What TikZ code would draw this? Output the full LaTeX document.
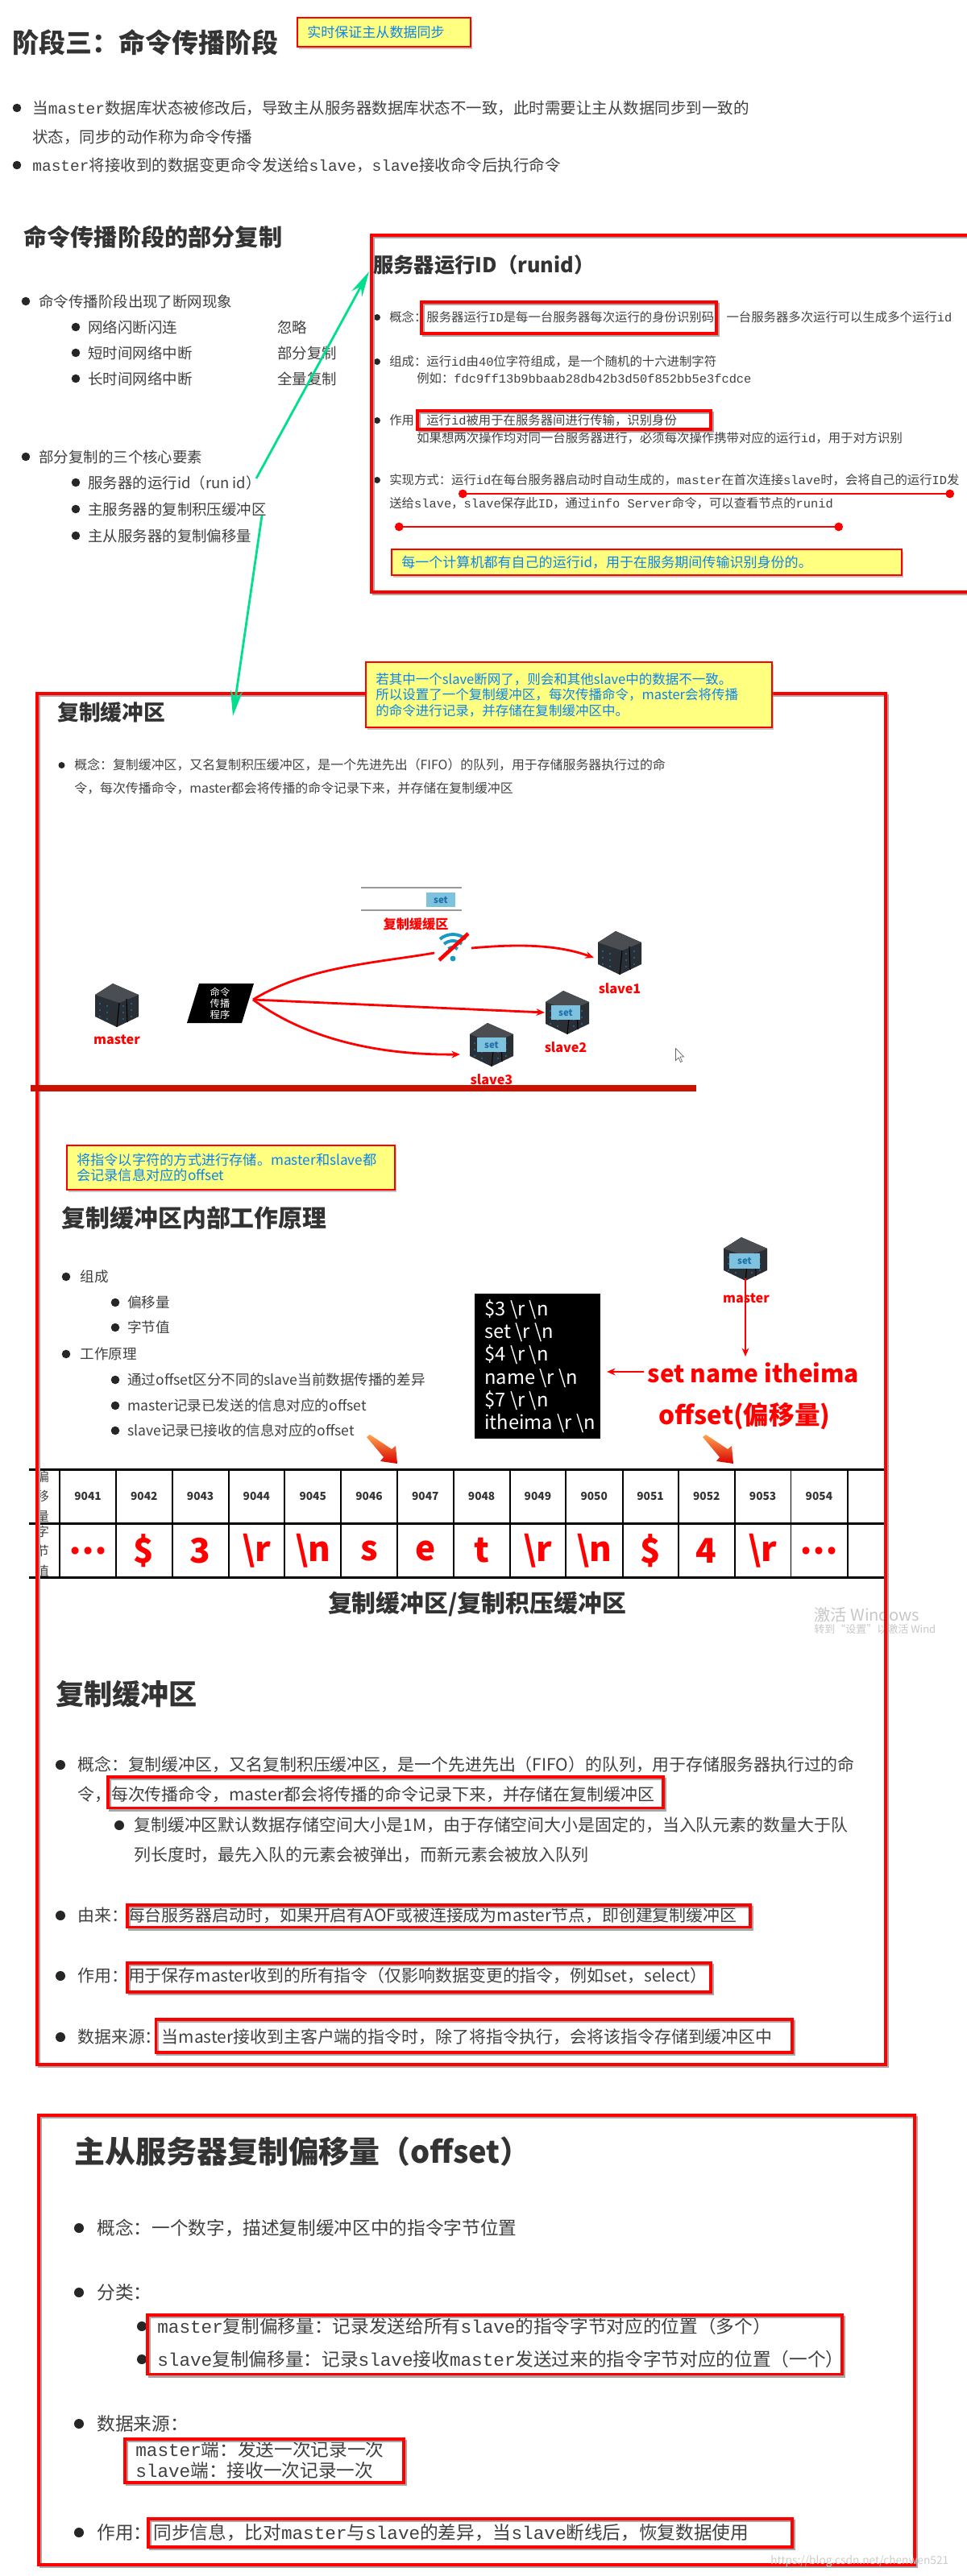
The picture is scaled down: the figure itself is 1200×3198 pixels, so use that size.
\documentclass[tikz,border=0pt]{standalone}
\usepackage{fontspec}
\setmainfont{Noto Sans CJK SC}
\setmonofont{Liberation Mono}
\usetikzlibrary{arrows.meta,shadows}
\definecolor{boxred}{HTML}{FF0000}
\definecolor{barred}{HTML}{CC1100}
\definecolor{noteyellow}{HTML}{FFFF80}
\definecolor{noteblue}{HTML}{0A84F0}
\definecolor{bodygray}{HTML}{404040}
\definecolor{titlegray}{HTML}{333333}
\definecolor{arrowgreen}{HTML}{00E08C}
\definecolor{tileblue}{HTML}{7EC2DE}
\definecolor{setblue}{HTML}{1F6FA8}
\definecolor{srvdark}{HTML}{2A2E35}
\definecolor{srvtop}{HTML}{4A4D52}
\newcommand{\mo}[1]{{\ttfamily #1}}
\newcommand{\bs}{\textbackslash}
\tikzset{
	fs/.style={font=\fontsize{#1}{#1}\selectfont},
	txt/.style={anchor=west, inner sep=0pt, text=bodygray},
	ttl/.style={anchor=west, inner sep=0pt, text=titlegray, font=\fontsize{#1}{#1}\selectfont\bfseries},
	redlbl/.style={inner sep=0pt, text=boxred, font=\fontsize{#1}{#1}\selectfont\bfseries},
	redbox/.style={draw=boxred, line width=2.2pt, line join=miter,
		preaction={draw=black!35, line width=1.6pt, transform canvas={shift={(1.2pt,-1.6pt)}}}},
	notebox/.style={draw=boxred, line width=1.6pt, fill=noteyellow, drop shadow={shadow xshift=1.2pt, shadow yshift=-1.8pt, opacity=.45},
		inner xsep=7pt, inner ysep=0pt, align=left, text=noteblue},
	settile/.style={fill=tileblue, inner sep=0pt, minimum width=20pt, minimum height=9.8pt, text=setblue,
		font=\fontsize{6.5}{6.5}\selectfont\bfseries},
	cell/.style={inner sep=0pt, text=titlegray, font=\fontsize{7.8}{7.8}\selectfont\bfseries},
	byte/.style={inner sep=0pt, text=boxred, font=\fontsize{24}{24}\selectfont\bfseries},
	flow/.style={draw=boxred, line width=1.6pt, -{Stealth[length=6pt,width=5pt]}},
	greenlink/.style={arrowgreen, line width=1.6pt, -{Stealth[length=18pt,width=8.5pt]}},
	server/.pic={
		\fill[srvdark] (-27,-13) -- (-5,-27) -- (27,-13) -- (27,14) -- (0,27) -- (-27,14) -- cycle;
		\fill[srvtop] (-27,-13) -- (-5,-27) -- (27,-13) -- (3,-3) -- cycle;
		\draw[black, line width=.6pt] (3,-3) -- (0,27) (12,-8) -- (13,21);
		\foreach \y in {-2,6,14}
			\fill[setblue] (-21,\y) circle (1.1) (-12,\y+3) circle (1.1) (8,\y+3) circle (1.1) (18,\y) circle (1.1);
	},
	blockarrow/.pic={
		\shade[top color=orange!70, bottom color=red!85!black] (0,0) -- (27,18) -- (32,14) -- (34,36) -- (13,33) -- (17,28) -- (-4,3) -- cycle;
	},
}
\begin{document}
\begin{tikzpicture}[x=0.02cm, y=-0.02cm]
	\useasboundingbox (0,0) rectangle (1200,3198);
	% page head
	\node[ttl=18.8] (headTitle) at (15,53) {阶段三：命令传播阶段};
	\foreach \x/\y/\r in {21/134/5.3, 21/205/5.3, 32/374/5.3, 94/406/5.3, 94/438/5.3, 94/470/5.3, 32/567/5.3, 94/599/5.3, 94/632/5.3, 94/665/5.3,
		468/394/4, 468/449/4, 468/522/4, 468/596/4, 76.5/950/4, 82/1585/5.3, 143/1617/5.3, 143/1648/5.3, 82/1681/5.3, 143/1713/5.3, 143/1745/5.3, 143/1776/5.3,
		75/2191/6, 148/2266/6, 75/2378/6, 75/2453/6, 75/2529/6, 98/2766/6, 98/2846/6, 176/2888/6, 176/2929/6, 98/3009/6, 98/3144/6}
		\fill[black!85] (\x,\y) circle (\r);
	\node[txt, fs=11.1] (headA) at (40,134) {当\mo{master}数据库状态被修改后，导致主从服务器数据库状态不一致，此时需要让主从数据同步到一致的};
	\node[txt, fs=11.1] (headB) at (40,170) {状态，同步的动作称为命令传播};
	\node[txt, fs=11.1] (headC) at (40,205) {\mo{master}将接收到的数据变更命令发送给\mo{slave}，\mo{slave}接收命令后执行命令};
	% partial copy list
	\node[ttl=16.6] (partTitle) at (29,294) {命令传播阶段的部分复制};
	\node[txt, fs=10.5] (partA) at (48,374) {命令传播阶段出现了断网现象};
	\node[txt, fs=10.5] (partA1) at (109,406) {网络闪断闪连};
	\node[txt, fs=10.5] (partA2) at (109,438) {短时间网络中断};
	\node[txt, fs=10.5] (partA3) at (109,470) {长时间网络中断};
	\node[txt, fs=10.5] (partR1) at (344,406) {忽略};
	\node[txt, fs=10.5] (partR2) at (344,438) {部分复制};
	\node[txt, fs=10.5] (partR3) at (344,470) {全量复制};
	\node[txt, fs=10.5] (partB) at (48,567) {部分复制的三个核心要素};
	\node[txt, fs=10.5] (partB1) at (109,599) {服务器的运行id（run id）};
	\node[txt, fs=10.5] (partB2) at (109,632) {主服务器的复制积压缓冲区};
	\node[txt, fs=10.5] (partB3) at (109,665) {主从服务器的复制偏移量};
	% run id box
	\draw[redbox] (1200,292) -- (461,292) -- (461,735) -- (1200,735);
	\node[ttl=14.4] (runTitle) at (463,329) {服务器运行ID（runid）};
	\node[txt, fs=8.75] (runA) at (483,394) {概念：服务器运行\mo{ID}是每一台服务器每次运行的身份识别码，一台服务器多次运行可以生成多个运行\mo{id}};
	\node[txt, fs=8.75] (runB) at (483,449) {组成：运行\mo{id}由\mo{40}位字符组成，是一个随机的十六进制字符};
	\node[txt, fs=8.75] (runB1) at (517,470) {例如：\mo{fdc9ff13b9bbaab28db42b3d50f852bb5e3fcdce}};
	\node[txt, fs=8.75] (runC) at (483,522) {作用：};
	\node[txt, fs=8.75] (runC0) at (529,522) {运行\mo{id}被用于在服务器间进行传输，识别身份};
	\node[txt, fs=8.75] (runC1) at (517,544) {如果想两次操作均对同一台服务器进行，必须每次操作携带对应的运行\mo{id}，用于对方识别};
	\node[txt, fs=8.75] (runD) at (483,596) {实现方式：运行\mo{id}在每台服务器启动时自动生成的，\mo{master}在首次连接\mo{slave}时，会将自己的运行\mo{ID}发};
	\node[txt, fs=8.75] (runD1) at (483,625) {送给\mo{slave}，\mo{slave}保存此\mo{ID}，通过\mo{info Server}命令，可以查看节点的\mo{runid}};
	\draw[redbox] (523,375) rectangle (889,414);
	\draw[redbox] (518,510) rectangle (882,533);
	\coordinate (lineAs) at (569,613);
	\coordinate (lineAe) at (1184,613);
	\coordinate (lineBs) at (490,654);
	\coordinate (lineBe) at (1046,654);
	\draw[boxred, line width=1.4pt, {Circle[length=6pt]}-{Circle[length=6pt]}] (lineAs) -- (lineAe);
	\draw[boxred, line width=1.4pt, {Circle[length=6pt]}-{Circle[length=6pt]}] (lineBs) -- (lineBe);
	% copy buffer panel
	\node[ttl=15.2] (bufTitle) at (71,884) {复制缓冲区};
	\node[txt, fs=9.05] (bufA) at (92,950) {概念：复制缓冲区，又名复制积压缓冲区，是一个先进先出（FIFO）的队列，用于存储服务器执行过的命};
	\node[txt, fs=9.05] (bufB) at (92,979) {令，每次传播命令，master都会将传播的命令记录下来，并存储在复制缓冲区};
	\draw[black!40, line width=1.4pt] (448,1102) -- (573,1102) (448,1130) -- (573,1130);
	\node[settile] (setQueue) at (547,1117) {set};
	\node[redlbl=9.2] (queueLbl) at (516,1147) {复制缓缓区};
	\pic (srvMaster) at (145,1248) {server};
	\pic (srvOne) at (769,1183) {server};
	\pic (srvTwo) at (704,1257) {server};
	\pic (srvThree) at (610,1297) {server};
	\node[settile] (setTwo) at (702,1257) {set};
	\node[settile] (setThree) at (610,1297) {set};
	\node[redlbl=9.2] (lblMaster) at (145,1291) {master};
	\node[redlbl=9.2] (lblOne) at (769,1227) {slave1};
	\node[redlbl=9.2] (lblTwo) at (702,1300) {slave2};
	\node[redlbl=9.2] (lblThree) at (610,1340) {slave3};
	\fill[black] (247,1221) -- (315,1221) -- (300,1270) -- (232,1270) -- cycle;
	\node[inner sep=0pt, text=white, align=center, font=\fontsize{7}{8}\selectfont] (progLbl) at (273,1246) {命令\\传播\\程序};
	\coordinate (progOut) at (314,1241);
	\coordinate (wifiIn) at (539,1183);
	\coordinate (wifiOut) at (585,1177);
	\coordinate (toOne) at (737,1189);
	\coordinate (toTwo) at (676,1257);
	\coordinate (toThree) at (571,1309);
	\draw[boxred, line width=1.6pt] (progOut) .. controls (380,1200) and (470,1195) .. (wifiIn);
	\draw[flow] (wifiOut) .. controls (640,1172) and (690,1172) .. (toOne);
	\draw[flow] (progOut) -- (toTwo);
	\draw[flow] (progOut) .. controls (380,1290) and (470,1310) .. (toThree);
	\foreach \r in {9,17,25}
		\draw[setblue!70!cyan, line width=2.2pt] (562,1185) ++(-130:\r) arc (-130:-50:\r);
	\fill[setblue!70!cyan] (562,1190) circle (3.5);
	\coordinate (wifiCutA) at (545,1192);
	\coordinate (wifiCutB) at (581,1159);
	\draw[boxred, line width=2.6pt] (wifiCutA) -- (wifiCutB);
	\draw[black!60, fill=white, line width=.4pt] (838.5,1301.5) -- ++(0,15) -- ++(3.5,-3.5) -- ++(2.5,5.5) -- ++(2,-1) -- ++(-2.5,-5.5) -- ++(4.5,0) -- cycle;
	% inner working panel
	\node[ttl=17] (innerTitle) at (76.5,1512) {复制缓冲区内部工作原理};
	\node[txt, fs=10] (innerA) at (99.5,1585) {组成};
	\node[txt, fs=10] (innerA1) at (158,1617) {偏移量};
	\node[txt, fs=10] (innerA2) at (158,1648) {字节值};
	\node[txt, fs=10] (innerB) at (99.5,1681) {工作原理};
	\node[txt, fs=10] (innerB1) at (158,1713) {通过offset区分不同的slave当前数据传播的差异};
	\node[txt, fs=10] (innerB2) at (158,1745) {master记录已发送的信息对应的offset};
	\node[txt, fs=10] (innerB3) at (158,1776) {slave记录已接收的信息对应的offset};
	\fill[black] (589,1606) rectangle (745,1786);
	\foreach \l/\t [count=\i] in {1626/{\$3 \bs r \bs n}, 1654/{set \bs r \bs n}, 1682/{\$4 \bs r \bs n}, 1711/{name \bs r \bs n}, 1739/{\$7 \bs r \bs n}, 1767/{itheima \bs r \bs n}}
		\node[anchor=west, inner sep=0pt, text=white, fs=13.5] (cmd\i) at (601,\l) {\t};
	\pic (srvSet) at (925,1563) {server};
	\node[settile, minimum width=21.6pt, minimum height=10.8pt] (setMaster) at (924,1565) {set};
	\node[redlbl=9.2] (lblSet) at (926,1612) {master};
	\coordinate (dropIn) at (925,1587);
	\coordinate (dropOut) at (925,1684);
	\draw[draw=boxred, line width=1pt, -{Stealth[length=6pt,width=5pt]}] (dropIn) -- (dropOut);
	\node[redlbl=17] (setName) at (935,1704) {set name itheima};
	\coordinate (cmdFrom) at (799,1703);
	\coordinate (cmdTo) at (753,1703);
	\draw[flow] (cmdFrom) -- (cmdTo);
	\node[redlbl=18] (offsetLbl) at (924,1758) {offset(偏移量)};
	\pic at (459,1781) {blockarrow};
	\pic at (876,1781) {blockarrow};
	% byte table
	\foreach \y in {1824,1891,1958}
		\draw[black, line width=1.7pt] (36,\y) -- (1098,\y);
	\foreach \x in {74,144,214,284,353,423,493,563,633,702,773,842,912,981.5,1052}
		\draw[black, line width=1pt] (\x,1824) -- (\x,1958);
	\foreach \n [count=\i from 0] in {9041,...,9054}
		\node[cell] (off\n) at (109+69.8*\i,1858) {\n};
	\foreach \t [count=\i from 0] in {…,\$,3,\bs r,\bs n,s,e,t,\bs r,\bs n,\$,4,\bs r,…}
		\node[byte] (chr\i) at (109+69.8*\i,1925) {\t};
	\foreach \t/\y in {偏/1833,移/1857,量/1883,字/1901,节/1925,值/1950}
		\node[inner sep=0pt, text=bodygray, fs=9] (side\y) at (53,\y) {\t};
	\node[ttl=17, anchor=center] (tableCap) at (592,1991) {复制缓冲区/复制积压缓冲区};
	\node[inner sep=0pt, anchor=west, text=black!22, fs=11.5] (winA) at (1010,2005) {激活 Windows};
	\node[inner sep=0pt, anchor=west, text=black!22, fs=7.4] (winB) at (1010,2023) {转到“设置”以激活 Wind};
	% copy buffer summary
	\node[ttl=20] (sumTitle) at (69,2103) {复制缓冲区};
	\node[txt, fs=11.9] (sumA) at (96,2191) {概念：复制缓冲区，又名复制积压缓冲区，是一个先进先出（FIFO）的队列，用于存储服务器执行过的命};
	\node[txt, fs=11.9] (sumB) at (96,2228) {令，每次传播命令，master都会将传播的命令记录下来，并存储在复制缓冲区};
	\node[txt, fs=11.9] (sumC) at (166,2266) {复制缓冲区默认数据存储空间大小是1M，由于存储空间大小是固定的，当入队元素的数量大于队};
	\node[txt, fs=11.9] (sumD) at (166,2303) {列长度时，最先入队的元素会被弹出，而新元素会被放入队列};
	\node[txt, fs=11.9] (sumE) at (96,2378) {由来：每台服务器启动时，如果开启有AOF或被连接成为master节点，即创建复制缓冲区};
	\node[txt, fs=11.9] (sumF) at (96,2453) {作用：用于保存master收到的所有指令（仅影响数据变更的指令，例如set，select）};
	\node[txt, fs=11.9] (sumG) at (96,2529) {数据来源：当master接收到主客户端的指令时，除了将指令执行，会将该指令存储到缓冲区中};
	\draw[redbox] (134,2206) rectangle (823,2244.5);
	\draw[redbox] (158,2365) rectangle (931,2392.5);
	\draw[redbox] (158,2437) rectangle (882,2473);
	\draw[redbox] (193.5,2507) rectangle (983,2548);
	\draw[redbox] (46,861) rectangle (1099,2563);
	\fill[barred] (38,1347) rectangle (864,1355);
	% offset panel
	\draw[redbox] (48,2626) rectangle (1135,3184);
	\node[ttl=21.6] (offTitle) at (92,2671) {主从服务器复制偏移量（offset）};
	\node[txt, fs=12.9] (offA) at (120,2766) {概念：一个数字，描述复制缓冲区中的指令字节位置};
	\node[txt, fs=12.9] (offB) at (120,2846) {分类：};
	\node[txt, fs=12.9] (offB1) at (195,2888) {\mo{master}复制偏移量：记录发送给所有\mo{slave}的指令字节对应的位置（多个）};
	\node[txt, fs=12.9] (offB2) at (195,2929) {\mo{slave}复制偏移量：记录\mo{slave}接收\mo{master}发送过来的指令字节对应的位置（一个）};
	\node[txt, fs=12.9] (offC) at (120,3009) {数据来源：};
	\node[txt, fs=12.9] (offC1) at (168,3041) {\mo{master}端：发送一次记录一次};
	\node[txt, fs=12.9] (offC2) at (168,3067) {\mo{slave}端：接收一次记录一次};
	\node[txt, fs=12.9] (offD) at (120,3144) {作用：};
	\node[txt, fs=12.9] (offD1) at (190,3144) {同步信息，比对\mo{master}与\mo{slave}的差异，当\mo{slave}断线后，恢复数据使用};
	\draw[redbox] (183,2874) rectangle (1045,2947.5);
	\draw[redbox] (155,3028) rectangle (501,3082);
	\draw[redbox] (184,3127) rectangle (983,3162);
	\node[inner sep=0pt, anchor=west, text=black!20, fs=7.8] (urlMark) at (956,3180) {https://blog.csdn.net/chenwen521};
	% notes
	\node[notebox, minimum width=4.3cm, minimum height=.72cm, text width=3.81cm, font=\fontsize{9.7}{11}\selectfont] (noteSync) at (476.5,40) {实时保证主从数据同步};
	\node[notebox, minimum width=12.66cm, minimum height=.64cm, text width=12.17cm, font=\fontsize{9.7}{11}\selectfont] (noteRun) at (802.5,698) {每一个计算机都有自己的运行id，用于在服务期间传输识别身份的。};
	\node[notebox, minimum width=10.08cm, minimum height=1.62cm, text width=9.59cm, font=\fontsize{9.4}{11.1}\selectfont] (noteDrop) at (706,862.5) {若其中一个slave断网了，则会和其他slave中的数据不一致。\\所以设置了一个复制缓冲区，每次传播命令，master会将传播\\的命令进行记录，并存储在复制缓冲区中。};
	\node[notebox, minimum width=8.14cm, minimum height=1.1cm, text width=7.65cm, font=\fontsize{9.8}{11.3}\selectfont] (noteOff) at (286.5,1449.5) {将指令以字符的方式进行存储。master和slave都\\会记录信息对应的offset};
	% green links
	\coordinate (linkAs) at (318,594);
	\coordinate (linkAe) at (458,337);
	\coordinate (linkBs) at (325,640);
	\coordinate (linkBe) at (289,889);
	\draw[greenlink] (linkAs) -- (linkAe);
	\draw[greenlink] (linkBs) -- (linkBe);
\end{tikzpicture}
\end{document}
